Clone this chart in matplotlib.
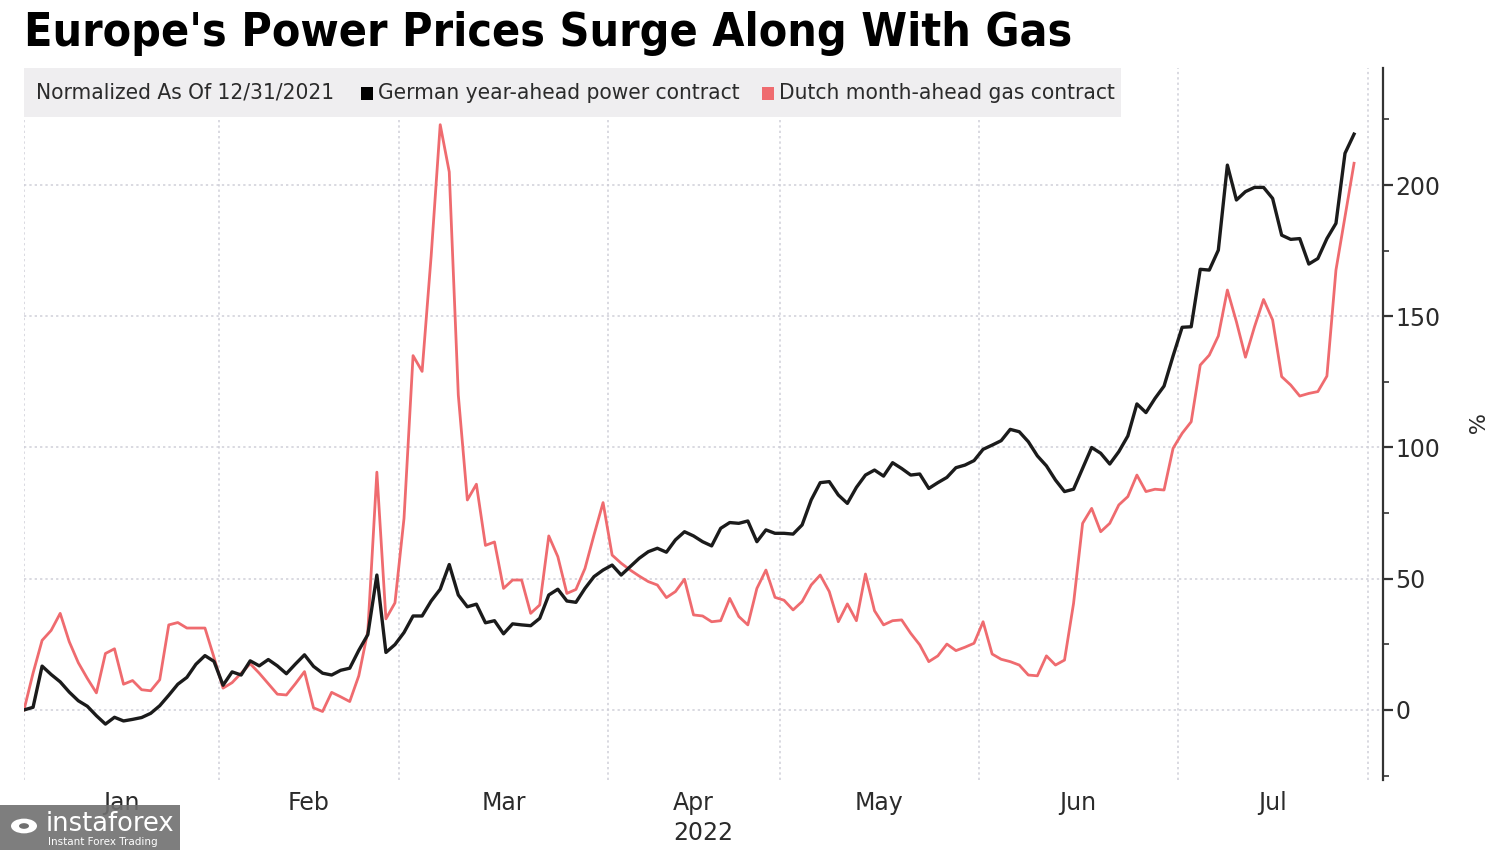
import numpy as np
import pandas as pd
import matplotlib
matplotlib.use("Agg")
import matplotlib.pyplot as plt
from matplotlib.patches import Rectangle, Circle
from matplotlib.ticker import MultipleLocator, FixedLocator, NullFormatter

# trading days, Dec 31 2021 .. Aug 1 2022 (Good Friday / Easter Monday closed)
holidays = pd.to_datetime(["2022-04-15", "2022-04-18"])
axis_days = pd.bdate_range("2021-12-31", "2022-08-01").drop(holidays)

# % change vs 12/31/2021, one value per trading day (Dec 31 .. Jul 28)
power = [
    0, 1, 16.7, 13.5, 10.7, 6.8, 3.5, 1.4, -2.2, -5.4,
    -2.8, -4.2, -3.6, -2.9, -1.3, 1.6, 5.6, 9.8, 12.4, 17.4,
    20.7, 18.5, 9.4, 14.5, 13.3, 18.7, 16.8, 19.2, 16.8, 13.8,
    17.5, 21, 16.6, 14, 13.3, 15.1, 15.9, 22.7, 28.7, 51.4,
    21.9, 24.9, 29.5, 35.8, 35.8, 41.5, 46, 55.4, 43.8, 39.3,
    40.3, 33.2, 34, 29, 32.8, 32.4, 32.1, 34.9, 43.8, 46,
    41.5, 41, 46.3, 50.8, 53.3, 55.2, 51.4, 54.6, 57.8, 60.3,
    61.6, 60.1, 64.8, 67.9, 66.3, 64.1, 62.5, 69.2, 71.4, 71.1,
    72, 64.1, 68.6, 67.3, 67.3, 67, 70.5, 80, 86.6, 87,
    81.9, 78.7, 84.8, 89.5, 91.4, 89.1, 94.2, 92, 89.5, 89.9,
    84.4, 86.6, 88.6, 92.3, 93.3, 95, 99.3, 100.9, 102.6, 106.9,
    106, 102.2, 96.8, 93, 87.6, 83.2, 84.1, 92.1, 100, 97.8,
    93.7, 98.4, 104.4, 116.6, 113.3, 118.7, 123.4, 134.9, 145.8, 146,
    167.9, 167.6, 175.2, 207.6, 194.3, 197.5, 199.1, 199.1, 194.9, 180.9,
    179.3, 179.6, 169.9, 172, 179.6, 185.4, 212.1, 219.4,
]
gas = [
    0, 14, 26.5, 30.3, 36.8, 26, 18, 12, 6.5, 21.5,
    23.3, 9.8, 11.2, 7.7, 7.3, 11.5, 32.4, 33.3, 31.2, 31.2,
    31.2, 20, 8.3, 10.4, 14, 17.6, 14, 10, 6, 5.7,
    10, 14.6, 0.8, -0.6, 6.7, 5, 3.2, 13, 30, 90.6,
    34.7, 40.8, 73, 135, 129, 173, 223, 205, 120, 80,
    86, 62.7, 64, 46.3, 49.5, 49.5, 36.8, 40, 66.3, 58.4,
    44.4, 45.9, 53.9, 66.7, 79, 59, 55.9, 53.3, 51, 48.9,
    47.6, 42.8, 45.1, 49.8, 36.2, 35.8, 33.6, 34, 42.5, 35.6,
    32.4, 46.3, 53.3, 42.9, 41.8, 38.1, 41.3, 47.6, 51.4, 45.1,
    33.6, 40.4, 34, 51.8, 37.8, 32.4, 34, 34.3, 29.2, 24.8,
    18.4, 20.6, 25.1, 22.6, 23.9, 25.4, 33.6, 21.3, 19.3, 18.4,
    17.1, 13.3, 13, 20.6, 17.1, 19, 40.6, 71.1, 76.8, 67.9,
    71.1, 78.1, 81.3, 89.5, 83.2, 84.1, 83.8, 99.7, 105.4, 109.8,
    131.4, 135.2, 142.5, 160, 147.9, 134.4, 146, 156.4, 148.6, 127,
    123.8, 119.6, 120.6, 121.3, 127.2, 167.6, 188, 208.3,
]
y_ticks = [0, 50, 100, 150, 200]
title = "Europe's Power Prices Surge Along With Gas"
legend_note = "Normalized As Of 12/31/2021"
power_label = "German year-ahead power contract"
gas_label = "Dutch month-ahead gas contract"

W, H = 1500, 850
TXT = "#2b2b2b"
GRID = "#cfcfd8"
RED = "#ef6b6f"

plt.rcParams["font.family"] = ["DejaVu Sans"]

fig = plt.figure(figsize=(W / 100, H / 100), dpi=100)
fig.patch.set_facecolor("white")


def px(x, y):
    # pixel position (from top-left) -> figure fraction
    return x / W, 1 - y / H


ax = fig.add_axes([24 / W, 1 - 780 / H, (1383 - 24) / W, (780 - 68) / H])
x = np.arange(len(power))
ax.plot(x, gas, color=RED, lw=2.0, zorder=3)
ax.plot(x, power, color="#1b1b1b", lw=2.4, zorder=4)

ax.set_xlim(0, 150.2)
ax.set_ylim(-26.7, 244.6)

for side in ["left", "top", "bottom"]:
    ax.spines[side].set_visible(False)
ax.spines["right"].set_color("#333333")
ax.spines["right"].set_linewidth(1.6)

# y axis on the right
ax.yaxis.tick_right()
ax.yaxis.set_major_locator(FixedLocator(y_ticks))
ax.yaxis.set_minor_locator(MultipleLocator(25))
ax.tick_params(axis="y", which="major", direction="out", length=7, width=1.6,
               color="#333333", labelsize=17, labelcolor=TXT, pad=2)
ax.tick_params(axis="y", which="minor", direction="out", length=4, width=1.2,
               color="#333333")
ax.grid(axis="y", which="major", color=GRID, ls=(0, (1.5, 2)), lw=1.1)

# month boundaries between trading days, labels centred in each month
months = axis_days.month
edges = [0] + [i - 0.5 for i in range(1, len(axis_days)) if months[i] != months[i - 1] and months[i] != 1]
mids = [(a + b) / 2 for a, b in zip(edges[:-1], edges[1:])]
month_names = [axis_days[int(m)].strftime("%b") for m in mids]
ax.xaxis.set_major_locator(FixedLocator(edges))
ax.xaxis.set_major_formatter(NullFormatter())
ax.xaxis.set_minor_locator(FixedLocator(mids))
ax.set_xticklabels(month_names, minor=True)
ax.tick_params(axis="x", which="both", length=0, labelsize=17, labelcolor=TXT, pad=8)
ax.grid(axis="x", which="major", color=GRID, ls=(0, (1.5, 2)), lw=1.1)

fig.text(*px(703, 833), "2022", ha="center", va="center", fontsize=17, color=TXT)
fig.text(*px(1473, 425), "%", ha="center", va="center", fontsize=16, color=TXT, rotation=270)

# title
fig.text(*px(24, 33), title, ha="left", va="center", fontsize=33.3, weight="bold",
         stretch="condensed", color="black")

# legend strip
fig.patches.append(Rectangle(px(24, 117), (1121 - 24) / W, 49 / H, transform=fig.transFigure,
                             facecolor="#efeef0", edgecolor="none", zorder=5))
fig.text(*px(36, 93), legend_note, ha="left", va="center", fontsize=16.2, stretch="condensed",
         color=TXT, zorder=6)
fig.patches.append(Rectangle(px(361, 100), 12 / W, 13 / H, transform=fig.transFigure,
                             facecolor="black", edgecolor="none", zorder=6))
fig.text(*px(378, 93), power_label, ha="left", va="center", fontsize=16.2, stretch="condensed",
         color=TXT, zorder=6)
fig.patches.append(Rectangle(px(762, 100), 12 / W, 13 / H, transform=fig.transFigure,
                             facecolor=RED, edgecolor="none", zorder=6))
fig.text(*px(779, 93), gas_label, ha="left", va="center", fontsize=16.2, stretch="condensed",
         color=TXT, zorder=6)

# watermark in the bottom-left corner
fig.patches.append(Rectangle(px(0, 850), 180 / W, 45 / H, transform=fig.transFigure,
                             facecolor="#707070", edgecolor="none", alpha=0.9, zorder=10))
fig.patches.append(Circle(px(24, 826), 13 / W, transform=fig.transFigure,
                          facecolor="white", edgecolor="none", zorder=11))
fig.patches.append(Circle(px(24, 826), 5 / W, transform=fig.transFigure,
                          facecolor="#707070", edgecolor="none", zorder=12))
fig.text(*px(46, 824), "instaforex", ha="left", va="center", fontsize=18.5, color="white", zorder=12)
fig.text(*px(48, 842), "Instant Forex Trading", ha="left", va="center", fontsize=7.5,
         color="white", zorder=12)

fig.savefig("out.png", dpi=100)
